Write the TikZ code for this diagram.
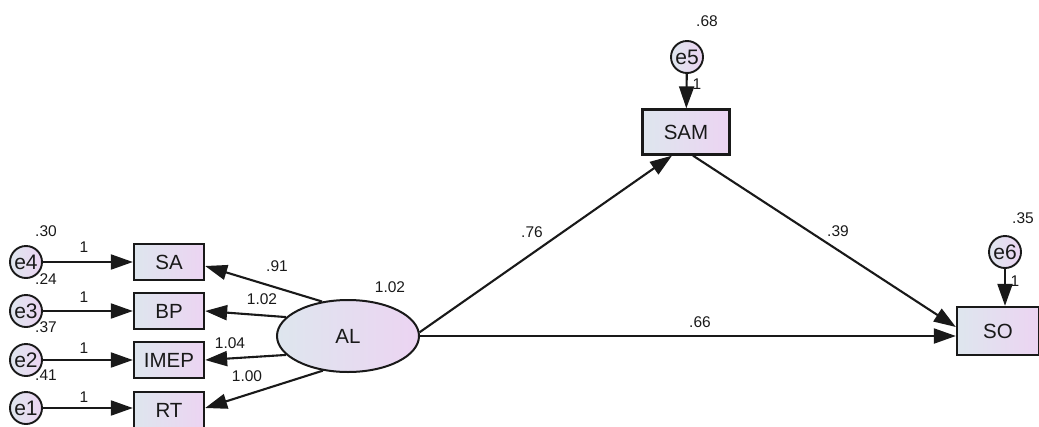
\documentclass[tikz,border=0pt]{standalone}
\usepackage{fontspec}
\setmainfont{Liberation Sans}
\usetikzlibrary{arrows.meta,shapes.geometric}
\definecolor{boxL}{RGB}{222,230,238}
\definecolor{boxR}{RGB}{236,212,242}
\definecolor{ink}{RGB}{25,25,25}
\begin{document}
\begin{tikzpicture}[x=1pt,y=-1pt,
  fillgrad/.style={left color=boxL, right color=boxR},
  obs/.style={draw=ink, line width=2.3pt, fillgrad, rectangle, inner sep=0pt, minimum width=70pt, minimum height=36pt, font=\fontsize{20.5}{20.5}\selectfont, text=ink},
  err/.style={draw=ink, line width=1.9pt, fillgrad, circle, minimum size=32pt, inner sep=0pt, font=\fontsize{21}{21}\selectfont, text=ink},
  lat/.style={draw=ink, line width=2pt, fillgrad, ellipse, minimum width=142pt, minimum height=72pt, inner sep=0pt, font=\fontsize{20.5}{20.5}\selectfont, text=ink},
  arr/.style={draw=ink, line width=2.1pt, -{Triangle[length=22pt,width=15pt]}},
  num/.style={font=\fontsize{15.5}{15.5}\selectfont, inner sep=0pt, text=ink}
]
\useasboundingbox (0,0) rectangle (1039,426);
% observed indicators
\node[obs] (SA) at (169,262) {SA};
\node[obs] (BP) at (169,311) {BP};
\node[obs] (IMEP) at (169,360) {IMEP};
\node[obs] (RT) at (169,410) {RT};
% errors
\node[err] (e4) at (26,262) {e4};
\node[err] (e3) at (26,311) {e3};
\node[err] (e2) at (26,360) {e2};
\node[err] (e1) at (26,408) {e1};
% latent
\node[lat] (AL) at (348,336) {AL};
% structural
\node[obs, minimum width=87pt, minimum height=45pt] (SAM) at (686,132) {SAM};
\node[obs, minimum width=82pt, minimum height=48pt] (SO) at (998,331) {SO};
\node[err] (e5) at (687,57) {e5};
\node[err] (e6) at (1005,252) {e6};
% error arrows
\draw[arr] (e4) -- (SA);
\draw[arr] (e3) -- (BP);
\draw[arr] (e2) -- (IMEP);
\draw[arr] (e1) -- (e1 -| RT.west);
\draw[arr] (e5) -- (SAM);
\draw[arr] (e6.south) -- (e6.south |- SO.north);
% loadings
\draw[arr] (AL.127) -- ([yshift=-4pt]SA.east);
\draw[arr] (AL.163) -- (BP.east);
\draw[arr] (AL.197) -- (IMEP.east);
\draw[arr] (AL.234) -- ([yshift=2pt]RT.east);
% structural paths
\draw[arr] (AL.3) -- ([xshift=-14pt]SAM.south);
\draw[arr] ([xshift=7pt]SAM.south) -- ([yshift=4pt]SO.west);
\draw[arr] (AL.east) -- (AL.east -| SO.west);
% numbers
\node[num] (v4) at (46,231) {.30};
\node[num] (v3) at (46,279) {.24};
\node[num] (v2) at (46,327) {.37};
\node[num] (v1) at (46,375) {.41};
\node[num] (w4) at (84,247) {1};
\node[num] (w3) at (84,297) {1};
\node[num] (w2) at (84,348) {1};
\node[num] (w1) at (84,397) {1};
\node[num] (l1) at (277,266) {.91};
\node[num] (l2) at (262,299) {1.02};
\node[num] (l3) at (230,343) {1.04};
\node[num] (l4) at (247,376) {1.00};
\node[num] (vAL) at (390,287) {1.02};
\node[num] (p1) at (532,232) {.76};
\node[num] (p2) at (838,231) {.39};
\node[num] (p3) at (700,322) {.66};
\node[num] (v5) at (707,21) {.68};
\node[num] (w5) at (697,84) {1};
\node[num] (v6) at (1023,218) {.35};
\node[num] (w6) at (1015,281) {1};
\end{tikzpicture}
\end{document}
